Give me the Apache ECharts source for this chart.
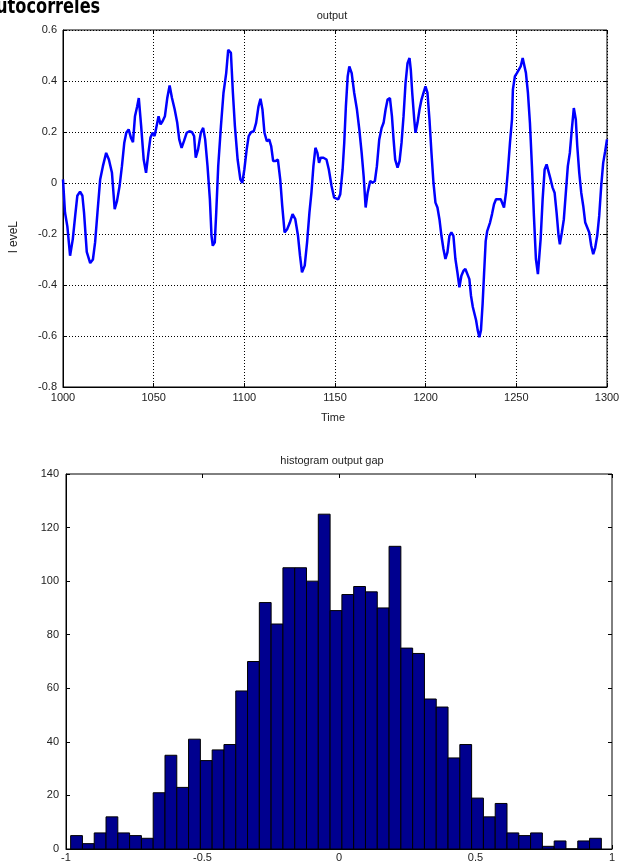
<!DOCTYPE html>
<html>
<head>
<meta charset="utf-8">
<script src="https://cdn.jsdelivr.net/npm/echarts@6/dist/echarts.min.js"></script>
<style>
html,body{margin:0;padding:0;background:#fff;}
#chart{width:627px;height:864px;}
</style>
</head>
<body>
<div id="chart"></div>
<script>
// ---- top chart: output over time ----
var outputTime = [
1000.0,1001.1,1002.4,1003.9,1005.4,1006.7,1007.9,1009.4,1010.7,1011.6,1013.1,1015.0,1016.5,1017.7,1019.0,1020.5,
1022.0,1023.8,1025.3,1027.0,1028.5,1029.8,1031.2,1032.5,1033.8,1034.9,1036.2,1037.5,1038.6,1039.7,1040.9,1041.8,
1043.1,1044.5,1045.8,1047.1,1048.2,1049.4,1050.5,1051.6,1052.7,1053.8,1054.9,1056.2,1057.5,1058.8,1060.1,1061.6,
1063.0,1064.1,1065.4,1066.7,1068.2,1069.7,1071.2,1072.3,1073.2,1074.5,1076.0,1077.3,1078.4,1079.7,1081.0,1081.9,
1082.6,1083.7,1084.5,1085.6,1087.1,1088.5,1090.0,1091.1,1092.6,1093.7,1094.8,1096.3,1097.8,1098.9,1100.0,1101.3,
1102.4,1103.7,1105.2,1106.5,1107.8,1108.9,1110.0,1111.1,1112.4,1113.7,1114.8,1115.9,1117.2,1118.5,1119.8,1120.9,
1122.2,1123.7,1125.1,1126.6,1128.1,1129.6,1130.7,1131.8,1133.3,1134.6,1135.9,1137.0,1138.1,1139.2,1140.3,1141.2,
1142.1,1143.6,1145.3,1146.6,1148.1,1149.5,1151.8,1152.9,1154.2,1155.1,1156.0,1157.0,1157.9,1159.2,1160.6,1162.1,
1163.4,1164.7,1165.8,1166.9,1168.0,1169.4,1170.7,1172.0,1173.1,1174.4,1175.7,1176.8,1177.9,1179.0,1180.3,1181.4,
1182.3,1183.2,1184.5,1185.6,1186.7,1187.8,1188.9,1190.0,1191.1,1191.8,1192.6,1193.7,1194.4,1195.5,1196.6,1197.7,
1198.8,1199.9,1201.0,1202.1,1203.2,1204.3,1205.4,1206.5,1207.6,1208.7,1209.8,1210.9,1212.0,1213.1,1214.2,1215.3,
1216.4,1217.5,1218.6,1219.7,1220.8,1221.9,1223.0,1224.1,1225.0,1226.0,1227.8,1228.7,1229.6,1230.5,1231.4,1232.2,
1233.1,1233.9,1235.5,1236.6,1237.7,1238.8,1239.9,1241.4,1242.5,1243.2,1244.3,1245.4,1246.5,1247.6,1248.1,1249.2,
1250.3,1252.4,1253.5,1254.2,1255.3,1256.4,1257.5,1258.6,1259.7,1260.8,1261.9,1262.7,1263.4,1264.5,1265.6,1266.7,
1267.8,1268.9,1270.0,1271.1,1272.2,1273.3,1274.0,1275.1,1276.2,1277.3,1278.4,1279.5,1280.6,1281.7,1282.8,1283.6,
1284.7,1285.8,1286.9,1288.0,1289.1,1290.2,1291.3,1292.4,1293.5,1294.6,1295.7,1296.8,1297.9,1299.0,1300.0
];
var outputLevel = [
0.014,-0.116,-0.17,-0.285,-0.22,-0.13,-0.05,-0.034,-0.05,-0.116,-0.27,-0.314,-0.30,-0.233,-0.116,0.014,
0.066,0.118,0.092,0.04,-0.103,-0.07,-0.012,0.066,0.158,0.197,0.21,0.177,0.16,0.262,0.30,0.333,
0.223,0.092,0.04,0.118,0.177,0.197,0.184,0.223,0.262,0.23,0.242,0.262,0.333,0.382,0.333,0.288,
0.236,0.171,0.138,0.164,0.197,0.203,0.199,0.184,0.099,0.132,0.197,0.216,0.171,0.066,-0.064,-0.207,
-0.246,-0.233,-0.116,0.066,0.223,0.353,0.431,0.522,0.51,0.353,0.223,0.092,0.014,0.001,0.053,0.132,
0.184,0.199,0.203,0.236,0.30,0.33,0.288,0.197,0.164,0.171,0.145,0.086,0.086,0.092,0.014,-0.09,
-0.194,-0.18,-0.155,-0.122,-0.142,-0.207,-0.285,-0.35,-0.324,-0.233,-0.116,-0.038,0.066,0.138,0.118,0.079,
0.099,0.099,0.092,0.053,-0.012,-0.057,-0.064,-0.044,0.053,0.158,0.30,0.418,0.457,0.431,0.353,0.288,
0.21,0.118,0.027,-0.096,-0.038,0.008,0.001,0.008,0.066,0.171,0.216,0.236,0.288,0.327,0.333,0.262,
0.171,0.092,0.06,0.086,0.158,0.262,0.392,0.47,0.49,0.444,0.353,0.249,0.197,0.236,0.288,0.327,
0.353,0.379,0.353,0.249,0.118,0.001,-0.077,-0.096,-0.142,-0.207,-0.259,-0.298,-0.272,-0.207,-0.194,-0.207,
-0.298,-0.35,-0.409,-0.364,-0.345,-0.337,-0.331,-0.377,-0.442,-0.486,-0.538,-0.577,-0.605,-0.577,-0.474,-0.357,
-0.228,-0.19,-0.155,-0.122,-0.083,-0.064,-0.061,-0.064,-0.064,-0.096,-0.038,0.053,0.158,0.249,0.366,0.418,
0.431,0.457,0.49,0.494,0.431,0.353,0.236,0.066,-0.129,-0.298,-0.357,-0.357,-0.22,-0.064,0.053,0.073,
0.066,0.014,-0.018,-0.038,-0.116,-0.207,-0.24,-0.194,-0.142,-0.038,0.066,0.118,0.21,0.294,0.249,0.145,
0.04,-0.038,-0.09,-0.155,-0.161,-0.194,-0.246,-0.279,-0.253,-0.207,-0.129,-0.012,0.079,0.125,0.171
];
var timeTicks = [1000, 1050, 1100, 1150, 1200, 1250, 1300];
var levelTicks = [-0.8, -0.6, -0.4, -0.2, 0, 0.2, 0.4, 0.6];

// ---- bottom chart: histogram of output gap ----
var histCounts = [5,2,6,12,6,5,4,21,35,23,41,33,37,39,59,70,92,84,105,105,100,125,89,95,98,96,90,113,75,73,56,53,34,39,19,12,17,6,5,6,1,3,0,3,4];
var histMin = -0.983;
var histMax = 0.961;
var gapTicks = [-1, -0.5, 0, 0.5, 1];
var countTicks = [0, 20, 40, 60, 80, 100, 120, 140];

var topTitle = 'output';
var topXName = 'Time';
var topYName = 'l eveL';
var bottomTitle = 'histogram output gap';
var cornerText = 'utocorreles';

var lineData = outputTime.map(function (t, i) { return [t, outputLevel[i]]; });
var binW = (histMax - histMin) / histCounts.length;
var histData = histCounts.map(function (c, i) { return [histMin + i * binW, histMin + (i + 1) * binW, c]; });

var FONT = '"Liberation Sans", Arial, sans-serif';
var lbl = { color: '#222', fontSize: 11, fontFamily: FONT };

function fmt(v) { return String(Math.round(v * 10) / 10); }

function mainAxis(extra, showSplit, margin) {
  return Object.assign({
    type: 'value',
    axisLine: { show: true, onZero: false, lineStyle: { color: '#000' } },
    axisTick: { show: true, inside: true, length: 4, lineStyle: { color: '#000' } },
    axisLabel: Object.assign({ margin: margin, formatter: fmt }, lbl),
    splitLine: { show: showSplit, lineStyle: { color: '#000', type: [1, 2], width: 1 } }
  }, extra);
}
function mirrorAxis(extra) {
  return Object.assign({
    type: 'value',
    axisLine: { show: false, onZero: false },
    axisTick: { show: true, inside: true, length: 4, lineStyle: { color: '#000' } },
    axisLabel: { show: false },
    splitLine: { show: false }
  }, extra);
}

var chart = echarts.init(document.getElementById('chart'), null, { renderer: 'canvas' });
chart.setOption({
  animation: false,
  backgroundColor: '#fff',
  grid: [
    { left: 63, top: 30, width: 544, height: 357, show: true, borderColor: '#000', borderWidth: 1, backgroundColor: 'transparent' },
    { left: 66, top: 474, width: 546, height: 375, show: true, borderColor: '#000', borderWidth: 1, backgroundColor: 'transparent' }
  ],
  xAxis: [
    mainAxis({ gridIndex: 0, min: timeTicks[0], max: timeTicks[timeTicks.length - 1], interval: 50, position: 'bottom' }, true, 5),
    mirrorAxis({ gridIndex: 0, min: timeTicks[0], max: timeTicks[timeTicks.length - 1], interval: 50, position: 'top' }),
    mainAxis({ gridIndex: 1, min: gapTicks[0], max: gapTicks[gapTicks.length - 1], interval: 0.5, position: 'bottom' }, false, 3),
    mirrorAxis({ gridIndex: 1, min: gapTicks[0], max: gapTicks[gapTicks.length - 1], interval: 0.5, position: 'top' })
  ],
  yAxis: [
    mainAxis({ gridIndex: 0, min: levelTicks[0], max: levelTicks[levelTicks.length - 1], interval: 0.2, position: 'left' }, true, 6),
    mirrorAxis({ gridIndex: 0, min: levelTicks[0], max: levelTicks[levelTicks.length - 1], interval: 0.2, position: 'right' }),
    mainAxis({ gridIndex: 1, min: countTicks[0], max: countTicks[countTicks.length - 1], interval: 20, position: 'left' }, false, 7),
    mirrorAxis({ gridIndex: 1, min: countTicks[0], max: countTicks[countTicks.length - 1], interval: 20, position: 'right' })
  ],
  series: [
    { type: 'line', xAxisIndex: 0, yAxisIndex: 0, data: lineData, showSymbol: false, symbol: 'none',
      lineStyle: { color: '#0000ff', width: 2.5 }, z: 5 },
    { type: 'custom', xAxisIndex: 2, yAxisIndex: 2, data: histData,
      renderItem: function (params, api) {
        var p0 = api.coord([api.value(0), api.value(2)]);
        var p1 = api.coord([api.value(1), 0]);
        return { type: 'rect', shape: { x: p0[0], y: p0[1], width: p1[0] - p0[0], height: p1[1] - p0[1] },
          style: { fill: '#00008f', stroke: '#000', lineWidth: 1 } };
      }, z: 3 }
  ],
  graphic: [
    { type: 'text', x: 332, y: 16, style: { text: topTitle, fill: '#222', font: '11px ' + FONT, align: 'center', verticalAlign: 'middle' } },
    { type: 'text', x: 333, y: 418, style: { text: topXName, fill: '#222', font: '11px ' + FONT, align: 'center', verticalAlign: 'middle' } },
    { type: 'text', x: 14, y: 237, rotation: Math.PI / 2, style: { text: topYName, fill: '#222', font: '12px ' + FONT, align: 'center', verticalAlign: 'middle' } },
    { type: 'text', x: 332, y: 461, style: { text: bottomTitle, fill: '#222', font: '11px ' + FONT, align: 'center', verticalAlign: 'middle' } },
    { type: 'text', x: -4, y: 21, scaleY: 1.15, originY: 21, style: { text: cornerText, fill: '#000', font: 'bold 18px "DejaVu Sans Condensed", "Liberation Sans Narrow", sans-serif', align: 'left', verticalAlign: 'bottom' } }
  ]
});
</script>
</body>
</html>
